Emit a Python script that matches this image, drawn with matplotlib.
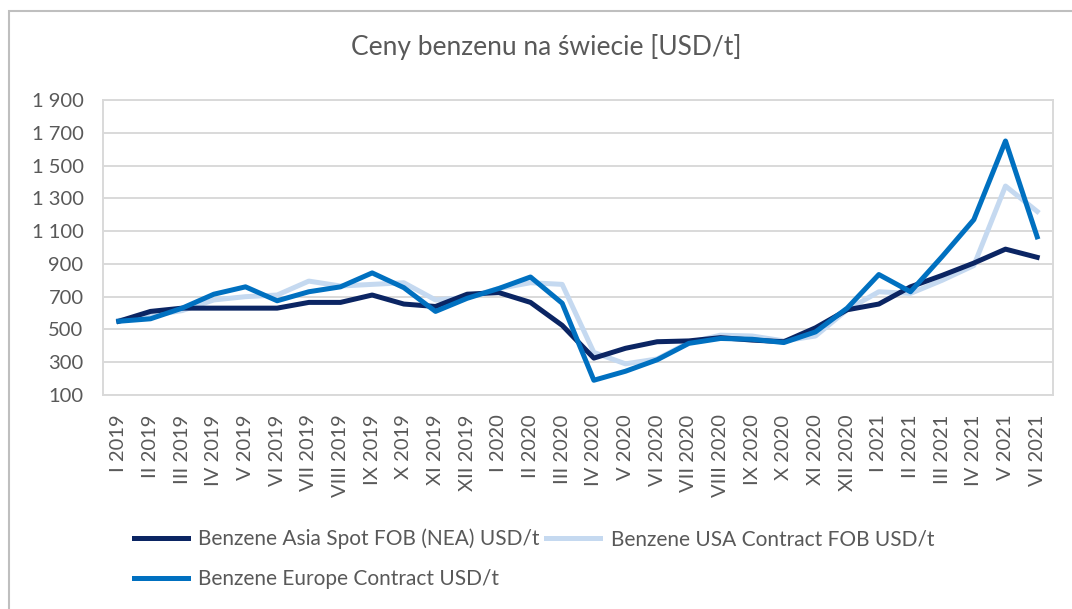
import numpy as np
import matplotlib.pyplot as plt
from matplotlib.patches import Rectangle
from matplotlib.ticker import FuncFormatter

plt.rcParams['font.family'] = ['Lato', 'DejaVu Sans']

months = ["I", "II", "III", "IV", "V", "VI", "VII", "VIII", "IX", "X", "XI", "XII"]
labels = [f"{m} {y}" for y in (2019, 2020) for m in months] + [f"{m} 2021" for m in months[:6]]

asia = [550, 610, 630, 630, 630, 630, 665, 665, 710, 655, 640, 715,
        725, 665, 525, 325, 385, 425, 430, 450, 435, 425, 510, 620,
        655, 760, 830, 905, 990, 940]
usa = [555, 585, 615, 680, 700, 710, 795, 765, 775, 785, 680, 695,
       750, 785, 775, 360, 290, 320, 420, 465, 460, 430, 460, 620,
       730, 720, 800, 890, 1375, 1220]
europe = [550, 565, 630, 715, 760, 675, 730, 760, 845, 755, 610, 690,
          750, 820, 660, 190, 245, 315, 415, 445, 440, 420, 485, 630,
          835, 730, 945, 1170, 1650, 1065]

c_asia = "#0b2563"
c_usa = "#c5d9f0"
c_eu = "#0070c0"
grey = "#595959"
grid = "#d9d9d9"

fig = plt.figure(figsize=(10.72, 6.09), dpi=100)
ax = fig.add_axes([103 / 1072, 1 - 395 / 609, 950 / 1072, 295 / 609])

x = np.arange(len(labels))
l1, = ax.plot(x, asia, color=c_asia, lw=3.6, label="Benzene Asia Spot FOB (NEA) USD/t", zorder=3)
l2, = ax.plot(x, usa, color=c_usa, lw=3.6, label="Benzene USA Contract FOB USD/t", zorder=2)
l3, = ax.plot(x, europe, color=c_eu, lw=3.6, label="Benzene Europe Contract USD/t", zorder=4)

ax.set_xlim(-0.5, len(labels) - 0.5)
ax.set_ylim(100, 1900)
ax.set_yticks(np.arange(100, 1901, 200))
ax.yaxis.set_major_formatter(FuncFormatter(lambda v, p: f"{int(v):,}".replace(",", " ")))
ax.set_xticks(x)
ax.set_xticklabels(labels, rotation=90)
ax.tick_params(axis="both", length=0, colors=grey, labelsize=14.5)
ax.tick_params(axis="y", pad=14)
ax.tick_params(axis="x", pad=14)
ax.grid(axis="y", color=grid, lw=1.4)
ax.set_axisbelow(True)
for s in ax.spines.values():
    s.set_color(grid)
    s.set_linewidth(1.4)

fig.text(546 / 1072, 1 - 47 / 609, "Ceny benzenu na świecie [USD/t]", ha="center", va="center",
         color=grey, fontsize=19)

# ramka wykresu
fig.patches.append(Rectangle((9 / 1072, -0.1), 1.2, 1 - 11 / 609 + 0.1, transform=fig.transFigure,
                             fill=False, edgecolor="#bfbfbf", lw=1.5))

# kolejnosc: wiersz 1 -> Asia, USA; wiersz 2 -> Europe
fig.legend([l1, l3, l2], [l1.get_label(), l3.get_label(), l2.get_label()],
           loc="upper left", bbox_to_anchor=(115 / 1072, 1 - 510 / 609), ncol=2,
           frameon=False, fontsize=15, handlelength=2.6, columnspacing=0.3,
           handletextpad=0.5, labelspacing=0.95, labelcolor=grey)

fig.savefig("out.png", dpi=100)
